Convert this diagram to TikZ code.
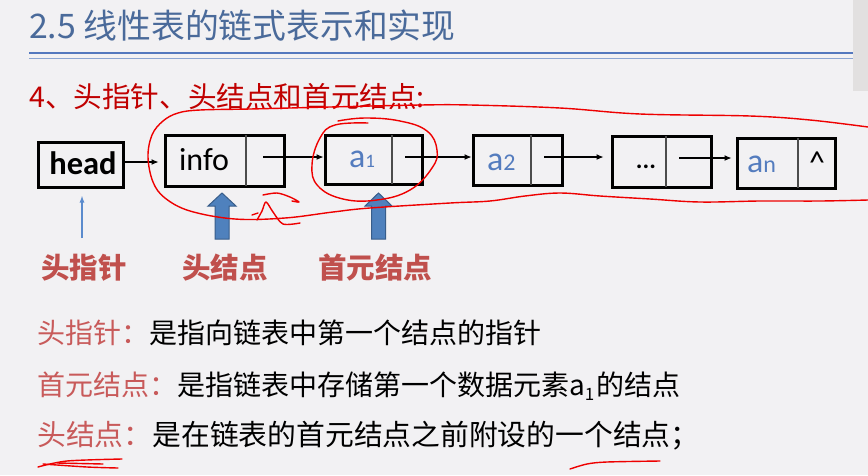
\documentclass[tikz,border=0pt]{standalone}
\usepackage{fontspec}
\setmainfont{Carlito}
\newfontfamily\cjk{Noto Sans CJK SC}
\usetikzlibrary{arrows.meta,calc}
\definecolor{bg}{RGB}{242,241,243}
\definecolor{titleblue}{RGB}{74,106,154}
\definecolor{rulea}{RGB}{84,120,190}
\definecolor{ruleb}{RGB}{140,165,210}
\definecolor{headred}{RGB}{192,0,0}
\definecolor{labred}{RGB}{192,80,77}
\definecolor{lightred}{RGB}{200,90,90}
\definecolor{elemblue}{RGB}{84,124,190}
\definecolor{arrowfill}{RGB}{79,129,189}
\definecolor{arrowedge}{RGB}{56,93,138}
\definecolor{thinblue}{RGB}{91,139,205}
\definecolor{inkred}{RGB}{238,0,0}
\definecolor{sidebar}{RGB}{226,224,224}
\begin{document}
\begin{tikzpicture}[x=1pt,y=-1pt,
  listbox/.style={draw=black, line width=3pt, inner sep=0pt, minimum width=#1},
  listbox/.default=100,
  divider/.style={draw=black!70, line width=1.2pt},
  link/.style={draw=black, line width=1.1pt, -{Latex[length=7pt,width=6pt]}},
  elem/.style={text=elemblue, inner sep=0pt, anchor=base west},
  lab/.style={text=labred, font=\cjk\bfseries\fontsize{28.5}{28.5}\selectfont, inner sep=0pt},
  line/.style={anchor=base west, inner sep=0pt, font=\cjk\fontsize{28}{28}\selectfont},
  blockarrow/.style={fill=arrowfill, draw=arrowedge, line width=1pt},
  ink/.style={draw=inkred, line width=1.4pt, line cap=round, line join=round},
]
\useasboundingbox (0,0) rectangle (868,475);
\fill[bg] (0,0) rectangle (868,475);
\fill[sidebar] (853,0) rectangle (868,91);

% title and rules
\node[anchor=base west, inner sep=0pt, text=titleblue, font=\cjk\fontsize{33.8}{33.8}\selectfont] (title) at (29,38) {2.5 线性表的链式表示和实现};
\draw[rulea, line width=2pt] (29,53) -- (853,53);
\draw[ruleb, line width=1pt] (29,58) -- (853,58);

% heading
\node[anchor=base west, inner sep=0pt, text=headred, font=\cjk\fontsize{28.6}{28.6}\selectfont] (sec) at (29,107) {4、头指针、头结点和首元结点:};

% list boxes
\node[listbox=85, minimum height=45] (head) at (80.5,164.5) {};
\node[anchor=base, inner sep=0pt, font=\bfseries\fontsize{32.5}{32.5}\selectfont] (headt) at (83,174) {head};

\node[listbox=119, minimum height=51] (info) at (224.5,160.5) {};
\draw[divider] (246,135) -- (246,186);
\node[anchor=base, inner sep=0pt, font=\fontsize{32}{32}\selectfont] (infot) at (204,170) {info};

\node[listbox=97, minimum height=49] (a1) at (373.5,159.5) {};
\draw[divider] (392,135) -- (392,184);
\node[elem] (a1t) at (349,167) {\fontsize{34}{34}\selectfont a\fontsize{19}{19}\selectfont 1};

\node[listbox=89, minimum height=50] (a2) at (517.5,160) {};
\draw[divider] (531,135) -- (531,185);
\node[elem] (a2t) at (487,170) {\fontsize{34}{34}\selectfont a\fontsize{24}{24}\selectfont 2};

\node[listbox=99, minimum height=51] (dots) at (661.5,161.5) {};
\draw[divider] (666,136) -- (666,187);
\node[anchor=base, inner sep=0pt, font=\bfseries\fontsize{25}{25}\selectfont] (dotst) at (646,168) {...};

\node[listbox=98, minimum height=50] (an) at (786,163) {};
\draw[divider] (798,138) -- (798,188);
\node[elem] (ant) at (747,172) {\fontsize{34}{34}\selectfont a\fontsize{24}{24}\selectfont n};
\node[anchor=center, inner sep=0pt, font=\fontsize{32}{32}\selectfont] (nil) at (817,163) {\textasciicircum};

% links
\coordinate (p0) at (123,162);
\coordinate (p1) at (263,157);
\coordinate (p2) at (405,157);
\coordinate (p3) at (544,157);
\coordinate (p4) at (679,158);
\draw[link, shorten >=5pt] (p0) -- (p0 -| info.west);
\draw[link] (p1) -- (p1 -| a1.west);
\draw[link] (p2) -- (p2 -| a2.west);
\draw[link, shorten >=7pt] (p3) -- (p3 -| dots.west);
\draw[link, shorten >=4pt] (p4) -- (p4 -| an.west);

% pointers from below
\coordinate (hp) at (82,238);
\draw[thinblue, line width=1.3pt, -{Latex[length=7pt,width=5pt]}, shorten >=7pt] (hp) -- (hp |- head.south);
\draw[blockarrow] (222,193) -- (236,206) -- (229,206) -- (229,239) -- (215,239) -- (215,206) -- (208,206) -- cycle;
\draw[blockarrow] (378.5,193) -- (392,206) -- (385.5,206) -- (385.5,239) -- (371.5,239) -- (371.5,206) -- (365,206) -- cycle;

\node[lab] (l1) at (84,268) {头指针};
\node[lab] (l2) at (225,268) {头结点};
\node[lab] (l3) at (375,268) {首元结点};

% definitions
\node[line] (d1) at (37,343) {\textcolor{lightred}{头指针：}是指向链表中第一个结点的指针};
\node[line] (d2) at (37,395) {\textcolor{lightred}{首元结点：}是指链表中存储第一个数据元素a\raisebox{-5pt}{\fontsize{17}{17}\selectfont 1}\hspace{2pt}的结点};
\node[line, font=\cjk\fontsize{28.8}{28.8}\selectfont] (d3) at (37,445) {\textcolor{lightred}{头结点：}是在链表的首元结点之前附设的一个结点；};

% hand-drawn red annotations
\draw[ink] plot[smooth, tension=0.6] coordinates {(868,127) (810,120) (750,116) (640,114) (560,108) (470,105) (420,105) (330,107) (250,109) (200,110) (178,113) (163,121) (152,135) (148,157) (153,182) (165,198) (190,211) (235,219) (285,218) (333,212) (370,208) (450,203) (490,201) (525,196) (560,193) (600,196) (650,199) (700,202) (760,201) (820,201) (868,200)};
\draw[ink] plot[smooth, tension=0.7] coordinates {(368,123) (335,125) (320,138) (312,165) (318,186) (343,199) (377,200) (410,190) (432,168) (437,150) (427,131) (400,121) (365,118) (338,121)};
\draw[ink] plot[smooth, tension=0.5] coordinates {(257,220) (262,211) (266,202) (273,212) (283,224) (300,223)};
\draw[ink] plot[smooth, tension=0.5] coordinates {(263,195) (277,193) (290,197) (299,202) (292,201)};
\draw[ink] (252,215) -- (258,213);
\draw[ink] plot[smooth] coordinates {(38,467) (67,461) (122,459)};
\draw[ink] plot[smooth] coordinates {(43,464) (87,467) (118,468)};
\draw[ink] (57,463) -- (103,464);
\draw[ink] plot[smooth] coordinates {(570,469) (587,464) (607,462) (660,461)};
\end{tikzpicture}
\end{document}
